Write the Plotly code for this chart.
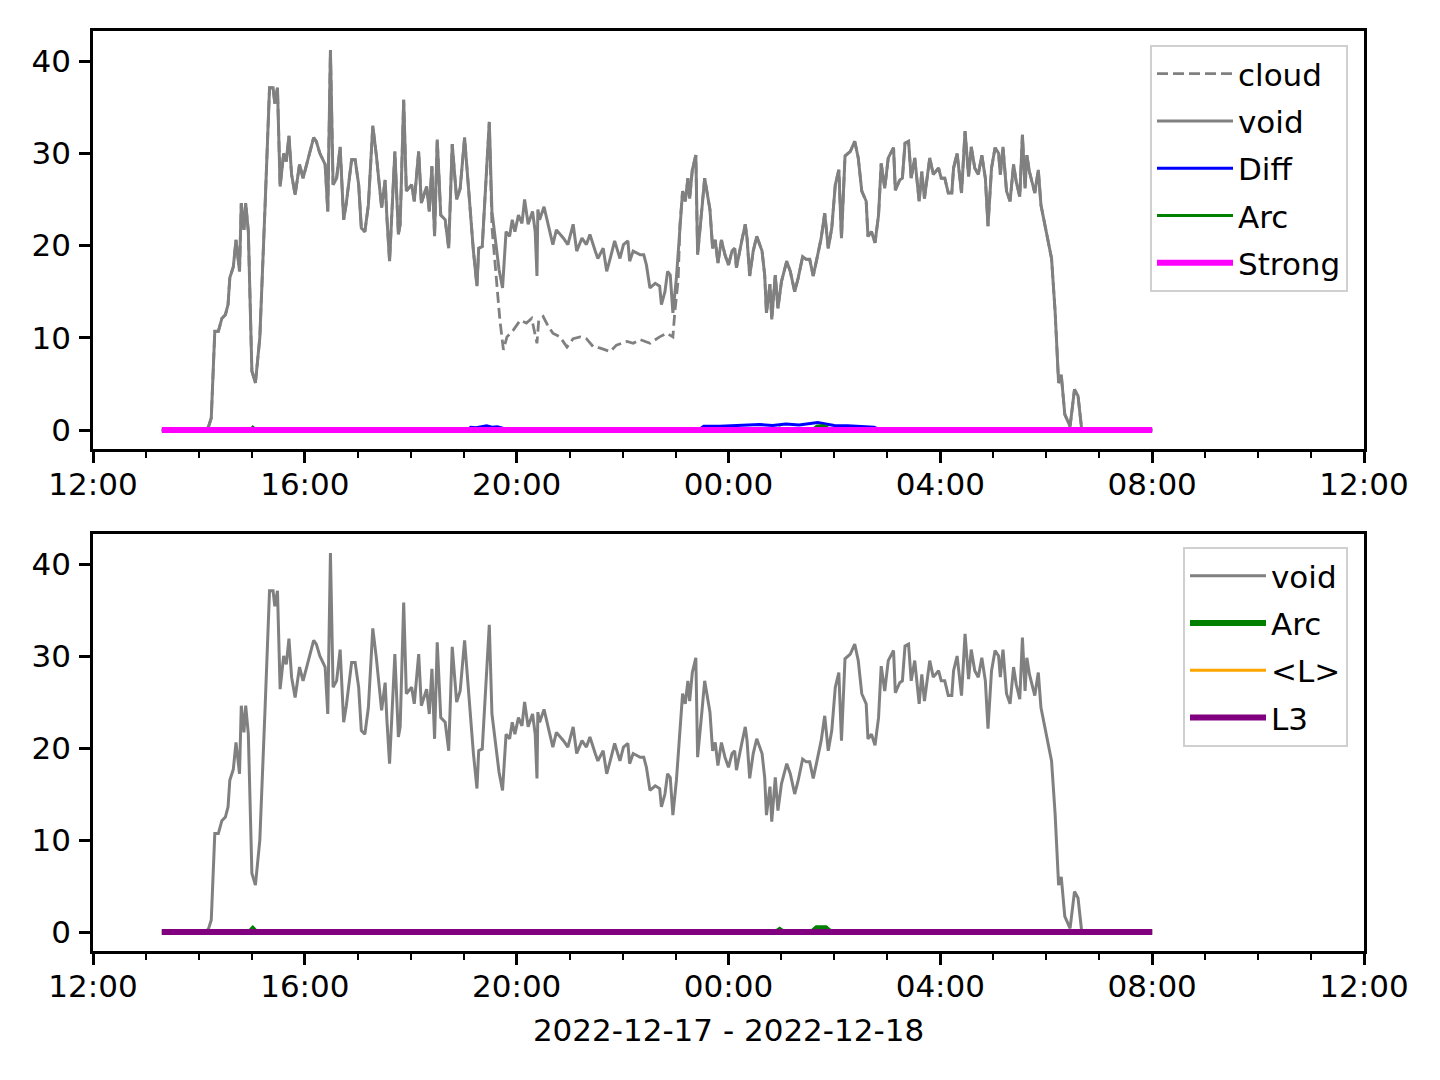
import plotly.graph_objects as go

# ---------------- data ----------------
void_t = ["13:18","14:08","14:11","14:14","14:18","14:22","14:26","14:30","14:33","14:35","14:39","14:42",
          "14:46","14:48","14:51","14:53","14:56","15:00","15:04","15:09","15:15","15:19","15:20","15:24",
          "15:26","15:29","15:32","15:36","15:39","15:42","15:45","15:49","15:54","15:58","16:04","16:10",
          "16:13","16:17","16:23","16:26","16:29","16:32","16:36","16:40","16:44","16:47","16:53","16:57",
          "17:01","17:04","17:08","17:12","17:17","17:21","17:27","17:31","17:33","17:36","17:42","17:46",
          "17:48","17:52","17:55","18:01","18:04","18:09","18:12","18:18","18:21","18:24","18:27","18:30",
          "18:34","18:39","18:43","18:47","18:52","18:56","19:01","19:06","19:11","19:15","19:17","19:21",
          "19:29","19:32","19:37","19:40","19:44","19:48","19:52","19:55","19:58","20:02","20:06","20:09",
          "20:13","20:18","20:21","20:23","20:24","20:26","20:31","20:36","20:41","20:45","20:53","20:58",
          "21:04","21:08","21:14","21:19","21:23","21:29","21:32","21:38","21:42","21:46","21:51","21:57",
          "22:01","22:06","22:08","22:12","22:20","22:24","22:27","22:31","22:37","22:42","22:44","22:48",
          "22:51","22:54","22:56","22:57","23:01","23:05","23:08","23:11","23:14","23:16","23:19","23:23",
          "23:25","23:30","23:33","23:39","23:42","23:45","23:48","23:52","23:56","00:00","00:04","00:07",
          "00:09","00:15","00:19","00:21","00:24","00:28","00:32","00:38","00:41","00:43","00:47","00:49",
          "00:53","00:56","01:00","01:06","01:10","01:15","01:19","01:24","01:28","01:32","01:36","01:40",
          "01:45","01:49","01:53","01:57","02:01","02:05","02:08","02:12","02:18","02:23","02:27","02:31",
          "02:36","02:38","02:42","02:46","02:50","02:53","02:57","03:01","03:05","03:07","03:09","03:14",
          "03:17","03:20","03:24","03:27","03:31","03:36","03:39","03:42","03:48","03:52","03:58","04:01",
          "04:05","04:09","04:13","04:15","04:19","04:24","04:28","04:32","04:35","04:39","04:43","04:47",
          "04:51","04:54","04:58","05:02","05:06","05:08","05:11","05:15","05:19","05:23","05:26","05:30",
          "05:33","05:36","05:38","05:41","05:47","05:51","05:54","05:57","06:00","06:02","06:06","06:10",
          "06:14","06:17","06:21","06:27","06:32","06:36","06:40","06:42","08:00"]
void_v = [0.0,0.0,0.4,1.3,10.7,10.7,12.1,12.5,13.6,16.5,17.7,20.6,
          17.2,24.6,21.7,24.6,21.5,6.4,5.1,10.0,24.4,34.5,37.1,37.1,
          35.4,37.1,26.4,30.0,29.1,31.9,27.7,25.5,28.8,27.3,29.5,31.7,
          31.3,30.0,28.8,23.7,41.2,26.6,27.3,30.7,22.8,24.6,29.3,29.3,
          26.6,21.9,21.5,24.4,33.0,29.8,24.1,27.1,23.0,18.3,30.2,21.2,
          22.3,35.8,25.9,26.6,24.8,30.2,24.6,26.4,23.7,28.6,21.0,31.5,
          23.3,22.8,19.7,31.0,25.0,26.2,31.7,25.3,19.4,15.6,19.7,19.9,
          33.4,23.7,20.1,17.4,15.4,21.5,21.0,22.8,21.5,23.3,22.4,25.0,
          22.3,23.7,21.5,16.7,23.9,22.8,24.2,22.3,20.1,21.7,20.8,20.1,
          22.3,19.4,20.8,20.1,21.2,19.4,18.6,19.7,17.2,18.6,20.5,18.6,
          20.1,20.5,18.3,19.4,19.0,19.0,17.9,15.4,15.9,15.6,13.6,15.0,
          17.2,16.8,13.6,12.7,16.5,22.3,25.9,24.8,27.3,25.1,28.2,29.8,
          19.0,24.1,27.3,23.9,19.7,20.6,18.1,20.6,19.0,17.9,19.4,19.7,
          17.6,20.5,22.3,20.8,16.7,19.4,21.0,19.4,16.8,12.7,15.8,12.0,
          16.8,13.2,16.1,18.3,17.2,15.0,16.5,18.8,18.5,18.5,16.7,18.5,
          20.8,23.5,19.7,21.9,26.6,28.2,20.8,29.7,30.2,31.3,29.5,25.9,
          24.8,21.0,21.5,20.3,23.3,28.9,26.2,29.5,30.2,30.6,26.0,27.1,
          27.3,31.1,31.3,27.3,29.5,24.8,28.0,25.1,29.5,27.7,28.4,27.3,
          27.3,25.7,25.7,28.4,30.0,25.7,32.4,27.5,30.7,28.4,27.7,29.8,
          27.3,22.1,28.4,30.6,30.0,27.7,30.7,25.9,24.8,28.8,26.9,25.3,
          32.0,26.2,29.8,28.0,25.7,28.2,24.4,22.9,21.7,20.8,18.6,12.9,
          5.1,6.0,1.7,0.4,4.4,3.7,0.2,0.0,0.0]

# "cloud" departs from "void" between 19:29 and 23:05
cloud_seg_t = ["19:32","19:37","19:41","19:45","19:49","19:56","20:04","20:11","20:17","20:23","20:25",
               "20:30","20:36","20:41","20:49","20:57","21:04","21:12","21:19","21:27","21:34","21:46",
               "21:53","22:05","22:12","22:20","22:31","22:42","22:50","22:57","22:59","23:03"]
cloud_seg_v = [22.0,16.3,11.9,8.7,10.1,10.8,11.9,11.6,12.1,9.4,11.9,
               12.3,11.2,10.5,10.1,9.0,9.9,10.1,9.9,9.0,8.9,8.5,
               9.2,9.6,9.4,9.8,9.4,10.1,10.5,10.1,12.6,16.3]

diff_t = ["13:18","15:00","15:02","15:04","19:04","19:08","19:14","19:20","19:26","19:32","19:38","19:44",
          "19:48","23:26","23:32","23:50","00:05","00:20","00:35","00:50","01:05","01:20","01:30","01:41",
          "01:50","02:00","02:15","02:30","02:45","02:52","08:00"]
diff_v = [0,0,0.2,0,0,0.3,0.25,0.35,0.45,0.3,0.35,0.2,
          0,0,0.4,0.4,0.45,0.5,0.6,0.5,0.65,0.55,0.65,0.8,
          0.65,0.5,0.45,0.35,0.3,0,0]

arc_t = ["13:18","14:58","15:01","15:04","00:55","00:58","01:01","01:35","01:40","01:45","01:50","01:55","08:00"]
arc_v = [0,0,0.3,0,0,0.2,0,0,0.4,0.45,0.4,0,0]

flat_t = ["13:18","08:00"]
strong_v = [0.0, 0.0]
meanL_v = [0.0, 0.0]
l3_v = [0.0, 0.0]

x_range = ["2022-12-17 12:00", "2022-12-18 12:00"]
x_title = "2022-12-17 - 2022-12-18"


def to_dt(times):
    out = []
    for t in times:
        day = "2022-12-17" if int(t[:2]) >= 12 else "2022-12-18"
        out.append(f"{day} {t}")
    return out


void_x = to_dt(void_t)
seg_x = to_dt(cloud_seg_t)
cloud_x = [x for x in void_x if x < seg_x[0]] + seg_x + [x for x in void_x if x > seg_x[-1]]
cloud_y = ([v for x, v in zip(void_x, void_v) if x < seg_x[0]] + cloud_seg_v +
           [v for x, v in zip(void_x, void_v) if x > seg_x[-1]])

FONT = "DejaVu Sans"
FS = 31
GREY = "#808080"
LW = 3.0

fig = go.Figure()
# top panel
fig.add_trace(go.Scatter(x=cloud_x, y=cloud_y, mode="lines", name="cloud",
                         line=dict(color=GREY, width=2.8, dash="11px,5px"),
                         legend="legend", legendgroup="a1", xaxis="x", yaxis="y"))
fig.add_trace(go.Scatter(x=void_x, y=void_v, mode="lines", name="void",
                         line=dict(color=GREY, width=LW), legend="legend", legendgroup="a2",
                         xaxis="x", yaxis="y"))
fig.add_trace(go.Scatter(x=to_dt(diff_t), y=diff_v, mode="lines", name="Diff",
                         line=dict(color="#0000ff", width=LW), legend="legend", legendgroup="a3",
                         xaxis="x", yaxis="y"))
fig.add_trace(go.Scatter(x=to_dt(arc_t), y=arc_v, mode="lines", name="Arc",
                         line=dict(color="#008000", width=LW), legend="legend", legendgroup="a4",
                         xaxis="x", yaxis="y"))
fig.add_trace(go.Scatter(x=to_dt(flat_t), y=strong_v, mode="lines", name="Strong",
                         line=dict(color="#ff00ff", width=6), legend="legend", legendgroup="a5",
                         xaxis="x", yaxis="y"))
# bottom panel
fig.add_trace(go.Scatter(x=void_x, y=void_v, mode="lines", name="void",
                         line=dict(color=GREY, width=LW), legend="legend2", legendgroup="b1",
                         xaxis="x2", yaxis="y2"))
fig.add_trace(go.Scatter(x=to_dt(arc_t), y=arc_v, mode="lines", name="Arc",
                         line=dict(color="#008000", width=6), legend="legend2", legendgroup="b2",
                         xaxis="x2", yaxis="y2"))
fig.add_trace(go.Scatter(x=to_dt(flat_t), y=meanL_v, mode="lines", name="<L>",
                         line=dict(color="#ffa500", width=LW), legend="legend2", legendgroup="b3",
                         xaxis="x2", yaxis="y2"))
fig.add_trace(go.Scatter(x=to_dt(flat_t), y=l3_v, mode="lines", name="L3",
                         line=dict(color="#800080", width=6), legend="legend2", legendgroup="b4",
                         xaxis="x2", yaxis="y2"))

W, H = 1440, 1080
L, R, T, B = 93, 1440 - 1364, 31, 1080 - 951
PW = W - L - R
PH = H - T - B


def py(pix):
    return (H - B - pix) / PH


def px(pix):
    return (pix - L) / PW


axis_common = dict(showline=True, linecolor="black", linewidth=2.5, mirror=True,
                   ticks="outside", ticklen=11, tickwidth=2.5, tickcolor="black",
                   showgrid=False, zeroline=False, automargin=False,
                   tickfont=dict(family=FONT, size=FS, color="black"))

xcommon = dict(axis_common, type="date", range=x_range, tick0=x_range[0], dtick=4 * 3600000,
               tickformat="%H:%M", ticklabelstandoff=-5,
               minor=dict(ticks="outside", ticklen=6, tickwidth=2, tickcolor="black",
                          dtick=3600000, tick0=x_range[0], showgrid=False))
ycommon = dict(axis_common, range=[-2.06, 43.26], tickvals=[0, 10, 20, 30, 40], ticklabelstandoff=2)

legend_common = dict(xanchor="right", yanchor="top", bgcolor="rgba(255,255,255,0.8)",
                     bordercolor="#d0d0d0", borderwidth=2,
                     font=dict(family=FONT, size=FS, color="black"), tracegroupgap=4, itemwidth=76)

fig.update_layout(
    width=W, height=H,
    margin=dict(l=L, r=R, t=T, b=B),
    paper_bgcolor="white", plot_bgcolor="white",
    font=dict(family=FONT, size=FS, color="black"),
    xaxis=dict(xcommon, domain=[0, 1], anchor="y"),
    yaxis=dict(ycommon, domain=[py(449), 1.0], anchor="x"),
    xaxis2=dict(xcommon, domain=[0, 1], anchor="y2",
                title=dict(text=x_title, font=dict(family=FONT, size=FS, color="black"), standoff=17)),
    yaxis2=dict(ycommon, domain=[0.0, py(534)], anchor="x2"),
    legend=dict(legend_common, x=px(1348), y=py(45)),
    legend2=dict(legend_common, x=px(1348), y=py(547)),
    showlegend=True,
)

fig.write_html("out.html", config={"displayModeBar": False},
               post_script="document.body.style.margin='0px';")
